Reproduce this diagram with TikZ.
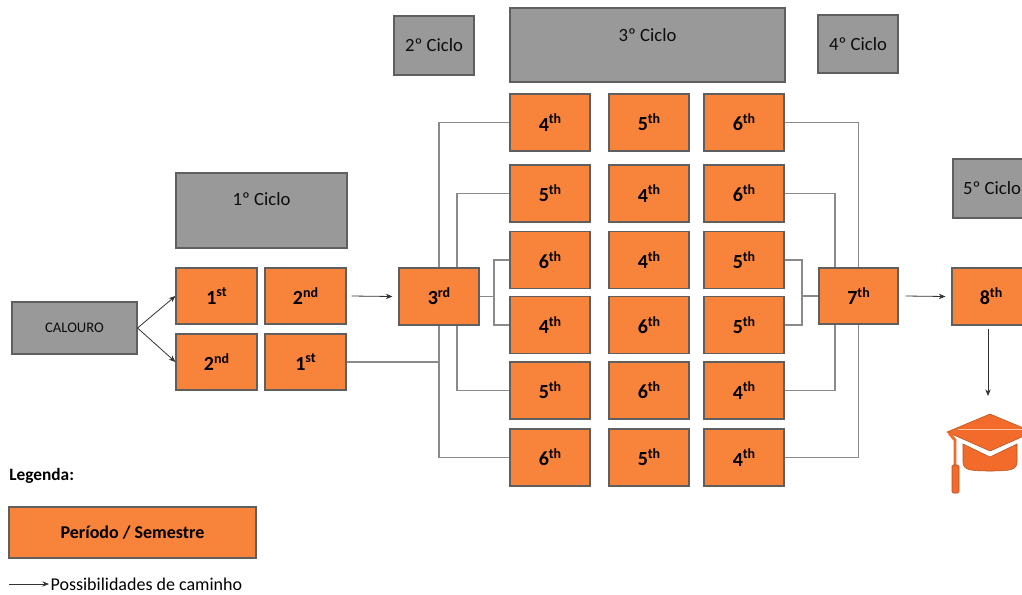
\documentclass[tikz,border=0pt]{standalone}
\usepackage{fontspec}
\setmainfont{Carlito}
\usetikzlibrary{arrows.meta,calc}
\definecolor{orangebox}{HTML}{F8833A}
\definecolor{greybox}{HTML}{999999}
\definecolor{edgegrey}{HTML}{5F5F5F}
\definecolor{linegrey}{HTML}{8A8A8A}
\definecolor{capor}{HTML}{F26B2A}
\newcommand\ordn[2]{#1\raisebox{0.36em}{\fontsize{10.5}{10.5}\selectfont #2}}
\begin{document}
\begin{tikzpicture}[x=0.75pt,y=-0.75pt,
 sem/.style={draw=edgegrey,line width=0.8pt,fill=orangebox,minimum width=80*0.75pt,minimum height=57*0.75pt,inner sep=0pt,font=\fontsize{15}{15}\selectfont\bfseries},
 cyc/.style={draw=edgegrey,line width=0.8pt,fill=greybox,inner sep=0pt,text=black!95,font=\fontsize{14}{14}\selectfont},
 cyctxt/.style={inner sep=0pt,text=black!95,font=\fontsize{14}{14}\selectfont},
 conn/.style={draw=linegrey,line width=1pt},
 arr/.style={draw=black!80,line width=0.6pt,-{Stealth[length=5pt,width=4pt]}},
]
\useasboundingbox (0,0) rectangle (1022,594);
\clip (0,0) rectangle (1022,594);

% cycles
\node[cyc,minimum width=171*0.75pt,minimum height=75*0.75pt] (c1) at (261.5,210.5) {};
\node[cyctxt] (c1t) at (261.5,199) {1º Ciclo};
\node[cyc,minimum width=80*0.75pt,minimum height=59*0.75pt] (c2) at (434,45.5) {2º Ciclo};
\node[cyc,minimum width=275*0.75pt,minimum height=74*0.75pt] (c3) at (647.5,45) {};
\node[cyctxt] (c3t) at (647.5,35) {3º Ciclo};
\node[cyc,minimum width=80*0.75pt,minimum height=58*0.75pt] (c4) at (858,44) {4º Ciclo};
\node[cyc,minimum width=78*0.75pt,minimum height=59*0.75pt] (c5) at (992,188.5) {5º Ciclo};

% start
\node[cyc,minimum width=125*0.75pt,minimum height=52*0.75pt,font=\fontsize{11}{11}\selectfont] (cal) at (74.5,328) {CALOURO};
\node[sem,minimum width=81*0.75pt,minimum height=56*0.75pt] (a1) at (216.5,296) {\ordn{1}{st}};
\node[sem,minimum width=81*0.75pt,minimum height=56*0.75pt] (a2) at (305.5,296) {\ordn{2}{nd}};
\node[sem,minimum width=81*0.75pt,minimum height=56*0.75pt] (b1) at (216.5,362) {\ordn{2}{nd}};
\node[sem,minimum width=81*0.75pt,minimum height=56*0.75pt] (b2) at (305.5,362) {\ordn{1}{st}};
\node[sem] (t3) at (439,296.5) {\ordn{3}{rd}};

\foreach \r/\y/\a/\b/\c in {1/122.5/4/5/6, 2/193.5/5/4/6, 3/260/6/4/5, 4/325/4/6/5, 5/390.5/5/6/4, 6/457.5/6/5/4} {
  \node[sem] (g\r1) at (550,\y) {\ordn{\a}{th}};
  \node[sem] (g\r2) at (649,\y) {\ordn{\b}{th}};
  \node[sem] (g\r3) at (744,\y) {\ordn{\c}{th}};
}
\node[sem,minimum width=79*0.75pt,minimum height=56*0.75pt] (s7) at (858.5,296) {\ordn{7}{th}};
\node[sem,minimum width=78*0.75pt] (e8) at (991,296.5) {\ordn{8}{th}};

% arrows
\draw[arr] (cal.east) -- (a1.west);
\draw[arr] (cal.east) -- (b1.west);
\draw[arr] ($(a2.east)+(5,0)$) -- ($(t3.west)+(-6,0)$);
\draw[arr] ($(s7.east)+(7,0)$) -- ($(e8.west)+(-6,0)$);
\coordinate (captip) at (988,396);
\draw[arr] (e8.south -| captip) ++(0,3) -- (captip);

% connectors left
\draw[conn] (t3.north) |- (g11.west);
\draw[conn] (t3.south) |- (g61.west);
\draw[conn] (b2.east) -- (b2.east -| t3.south);
\coordinate (l2) at (457,0);
\draw[conn] (t3.north -| l2) |- (g21.west);
\draw[conn] (t3.south -| l2) |- (g51.west);
\coordinate (l3) at (494,0);
\draw[conn] (t3.east) -- (t3.east -| l3);
\draw[conn] (g31.west) -| (l3 |- g41.west) -- (g41.west);

% connectors right
\draw[conn] (g13.east) -| (s7.north);
\draw[conn] (g63.east) -| (s7.south);
\coordinate (r2) at (835,0);
\draw[conn] (g23.east) -| (s7.north -| r2);
\draw[conn] (g53.east) -| (s7.south -| r2);
\coordinate (r3) at (802,0);
\draw[conn] (g33.east) -| (r3 |- g43.east) -- (g43.east);
\draw[conn] (s7.west) -- (s7.west -| r3);

% graduation cap
\begin{scope}[draw=capor!75!black,line width=0.4pt]
\filldraw[fill=capor] (963,444) -- (990,457) -- (1017,444) -- (1017,462) .. controls (1017,470) and (1010,471) .. (990,471) .. controls (970,471) and (963,470) .. (963,462) -- cycle;
\filldraw[fill=capor] (990,414) -- (1033,432) -- (990,451) -- (947,432) -- cycle;
\draw[white!60!capor,line width=0.6pt] (958,429) -- (1022,429);
\draw[capor,line width=2.2pt] (949,433) -- (955,440) -- (955,468);
\filldraw[fill=capor,rounded corners=1pt] (952,465) rectangle (959,493);
\end{scope}

% legend
\node[anchor=west,inner sep=0pt,font=\fontsize{13}{13}\selectfont\bfseries] (leg) at (9,476) {Legenda:};
\node[sem,minimum width=247*0.75pt,minimum height=51*0.75pt,font=\fontsize{13.5}{13.5}\selectfont\bfseries] (lb) at (132.5,532.5) {Período / Semestre};
\coordinate (la) at (9,584);
\node[anchor=west,inner sep=1pt,font=\fontsize{13.5}{13.5}\selectfont] (lt) at (49,584) {Possibilidades de caminho};
\draw[arr] (la) -- (lt.west);
\end{tikzpicture}
\end{document}
